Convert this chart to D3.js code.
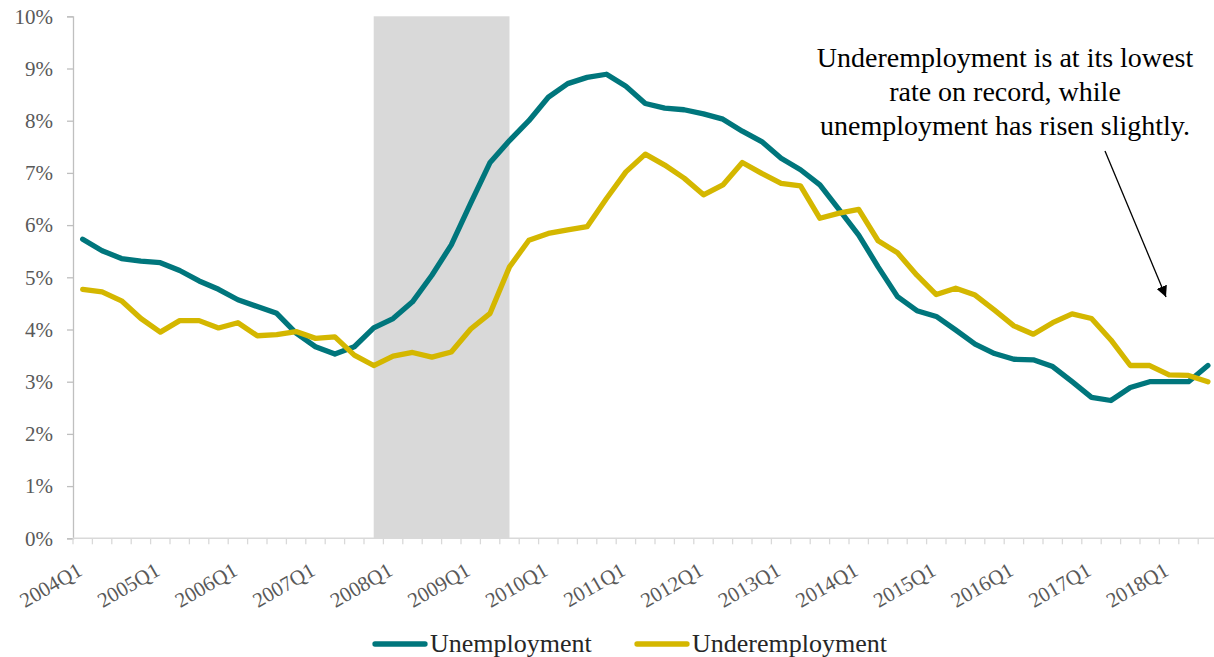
<!DOCTYPE html>
<html>
<head>
<meta charset="utf-8">
<script src="https://cdn.jsdelivr.net/npm/d3@7"></script>
<style>
  body { margin: 0; background: #fff; }
  text { font-family: "Liberation Serif", "DejaVu Serif", serif; }
</style>
</head>
<body>
<script>
// kwartalen 2004Q1 .. 2018Q3
var jaren = d3.range(2004, 2019);
var kwartalen = [];
jaren.forEach(function(j) {
  [1, 2, 3, 4].forEach(function(q) {
    if (j === 2018 && q === 4) return;
    kwartalen.push(j + "Q" + q);
  });
});

// waarden in procenten
var werkloosheid = [
  5.73, 5.51, 5.36, 5.31, 5.28, 5.13, 4.93, 4.77, 4.57, 4.44,
  4.31, 3.93, 3.67, 3.53, 3.67, 4.03, 4.21, 4.53, 5.04, 5.62,
  6.42, 7.20, 7.62, 8.00, 8.45, 8.71, 8.83, 8.89, 8.66, 8.33,
  8.24, 8.21, 8.13, 8.03, 7.80, 7.60, 7.28, 7.06, 6.77, 6.29,
  5.81, 5.20, 4.63, 4.36, 4.25, 3.99, 3.72, 3.54, 3.43, 3.42,
  3.29, 3.00, 2.70, 2.64, 2.89, 3.00, 3.00, 3.00, 3.31
];
var onderbenutting = [
  4.77, 4.72, 4.55, 4.21, 3.95, 4.17, 4.17, 4.03, 4.13, 3.88,
  3.90, 3.96, 3.83, 3.86, 3.51, 3.31, 3.49, 3.56, 3.47, 3.57,
  4.01, 4.31, 5.20, 5.71, 5.84, 5.91, 5.97, 6.51, 7.02, 7.36,
  7.15, 6.90, 6.58, 6.77, 7.20, 6.99, 6.80, 6.75, 6.13, 6.23,
  6.30, 5.70, 5.47, 5.04, 4.67, 4.79, 4.66, 4.37, 4.07, 3.91,
  4.13, 4.30, 4.21, 3.80, 3.31, 3.31, 3.13, 3.12, 3.00
];
var yTicks = [0, 1, 2, 3, 4, 5, 6, 7, 8, 9, 10];
var recessie = ["2007Q4", "2009Q3"];
var reeksen = ["Unemployment", "Underemployment"];
var kleuren = ["#00767C", "#D4B700"];
var notitie = ["Underemployment is at its lowest", "rate on record, while", "unemployment has risen slightly."];

var breedte = 1214, hoogte = 657;
var marge = {boven: 16.3, links: 73};
var grafiekHoogte = 522;
var grafiekBreedte = 19.4 * kwartalen.length;

var svg = d3.select("body").append("svg")
    .attr("width", breedte)
    .attr("height", hoogte);

var defs = svg.append("defs");
defs.append("marker")
    .attr("id", "pijl")
    .attr("viewBox", "0 0 10 10")
    .attr("refX", 10).attr("refY", 5)
    .attr("markerWidth", 11).attr("markerHeight", 11)
    .attr("markerUnits", "userSpaceOnUse")
    .attr("orient", "auto")
  .append("path")
    .attr("d", "M0,0L10,5L0,10z")
    .attr("fill", "#000");

var g = svg.append("g")
    .attr("transform", "translate(" + marge.links + "," + marge.boven + ")");

var x = d3.scaleBand().domain(kwartalen).range([0, grafiekBreedte]);
var y = d3.scaleLinear().domain([0, 10]).range([grafiekHoogte, 0]);
var midden = function(k) { return x(k) + x.bandwidth() / 2; };

// recessie balk
g.append("rect")
    .attr("x", midden(recessie[0]))
    .attr("width", midden(recessie[1]) - midden(recessie[0]))
    .attr("y", y(10))
    .attr("height", y(0) - y(10))
    .attr("fill", "#D9D9D9");

// y-as
var asY = g.append("g")
    .call(d3.axisLeft(y).tickValues(yTicks).tickSize(6).tickPadding(14)
      .tickFormat(function(d) { return d + "%"; }));
asY.select(".domain").attr("stroke", "#BFBFBF").attr("stroke-width", 1.3);
asY.selectAll(".tick line").attr("stroke", "#BFBFBF").attr("stroke-width", 1.3);
asY.selectAll(".tick text")
    .attr("fill", "#595959")
    .style("font-size", "21px");

// x-as: streepjes tussen de kwartalen
var asX = g.append("g").attr("transform", "translate(0," + grafiekHoogte + ")");
asX.append("line")
    .attr("x1", 0).attr("x2", grafiekBreedte)
    .attr("stroke", "#D9D9D9").attr("stroke-width", 1.5);
asX.selectAll(".streep")
    .data(kwartalen.concat(["eind"]))
    .enter().append("line")
    .attr("class", "streep")
    .attr("x1", function(d, i) { return i * x.step(); })
    .attr("x2", function(d, i) { return i * x.step(); })
    .attr("y1", 0).attr("y2", 6)
    .attr("stroke", "#D9D9D9").attr("stroke-width", 1.3);
asX.selectAll(".label")
    .data(kwartalen.filter(function(k) { return /Q1$/.test(k); }))
    .enter().append("text")
    .attr("class", "label")
    .attr("transform", function(d) {
      return "translate(" + (midden(d) + 1) + ",36) rotate(-30)";
    })
    .attr("text-anchor", "end")
    .attr("fill", "#595959")
    .style("font-size", "21px")
    .text(function(d) { return d; });

// lijnen
var lijn = d3.line()
    .x(function(d, i) { return midden(kwartalen[i]); })
    .y(function(d) { return y(d); });

[werkloosheid, onderbenutting].forEach(function(reeks, i) {
  g.append("path")
      .datum(reeks)
      .attr("d", lijn)
      .attr("fill", "none")
      .attr("stroke", kleuren[i])
      .attr("stroke-width", 5.3)
      .attr("stroke-linejoin", "round")
      .attr("stroke-linecap", "round");
});

// notitie met pijl
svg.append("g").selectAll("text")
    .data(notitie)
    .enter().append("text")
    .attr("x", 1005)
    .attr("y", function(d, i) { return 67 + i * 34; })
    .attr("text-anchor", "middle")
    .attr("fill", "#000")
    .style("font-size", "28px")
    .text(function(d) { return d; });

svg.append("line")
    .attr("x1", 1105).attr("y1", 151)
    .attr("x2", 1166).attr("y2", 297)
    .attr("stroke", "#000").attr("stroke-width", 1.3)
    .attr("marker-end", "url(#pijl)");

// legenda
var legenda = svg.append("g").attr("class", "legend");
var legX = [372, 634];
reeksen.forEach(function(r, i) {
  legenda.append("line")
      .attr("x1", legX[i] + 3).attr("x2", legX[i] + 53)
      .attr("y1", 644).attr("y2", 644)
      .attr("stroke", kleuren[i]).attr("stroke-width", 5.3)
      .attr("stroke-linecap", "round");
  legenda.append("text")
      .attr("x", legX[i] + 58)
      .attr("y", 652)
      .attr("fill", "#262626")
      .style("font-size", "26px")
      .text(r);
});
</script>
</body>
</html>
